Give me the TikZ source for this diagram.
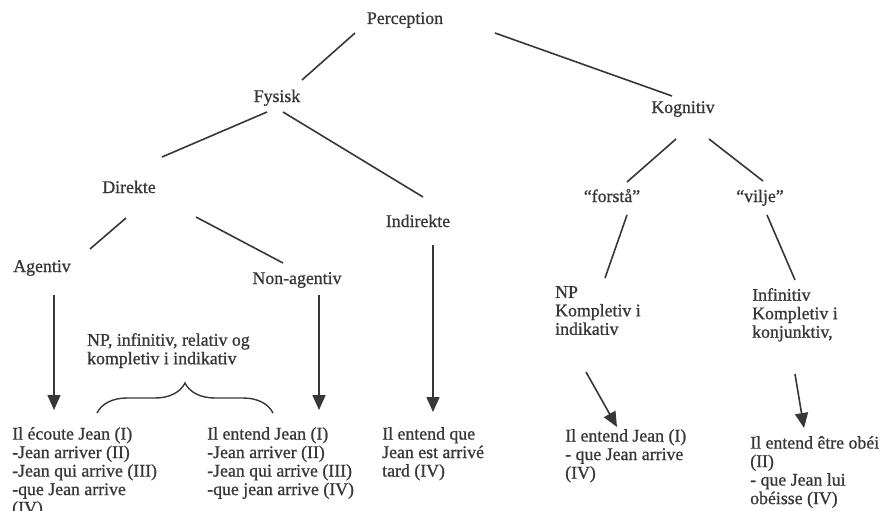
\documentclass[tikz,border=0pt]{standalone}
\usepackage{fontspec}
\setmainfont{Liberation Serif}[FakeBold=0.9]
\usetikzlibrary{arrows.meta,calc,decorations.pathreplacing}
\definecolor{ink}{RGB}{55,55,55}
\begin{document}
\begin{tikzpicture}[x=1pt,y=-1pt,
  lbl/.style={inner sep=0pt,anchor=base,text=ink,font=\fontsize{17.8}{18.5}\selectfont},
  blk/.style={inner sep=0pt,anchor=north west,align=left,text=ink,font=\fontsize{17.8}{18.5}\selectfont},
  link/.style={draw=ink,line width=1.6pt},
  arr/.style={draw=ink,line width=1.6pt,-{Triangle[width=13pt,length=15pt]}},
  bracestyle/.style={draw=ink,line width=1.4pt,decorate,decoration={brace,amplitude=30pt}},
]
\useasboundingbox[fill=white] (0,0) rectangle (891,511);

% labels
\node[lbl] (P) at (405,24) {Perception};
\node[lbl] (F) at (277,102) {Fysisk};
\node[lbl] (K) at (683,113) {Kognitiv};
\node[lbl] (D) at (129,193) {Direkte};
\node[lbl] (I) at (418,227) {Indirekte};
\node[lbl] (FO) at (612,202) {“forstå”};
\node[lbl] (V) at (760,202) {“vilje”};
\node[lbl] (A) at (42,272) {Agentiv};
\node[lbl] (N) at (297,284) {Non-agentiv};

\node[blk] (NP) at (555,286) {NP\\Kompletiv i\\indikativ};
\node[blk] (INF) at (752,288) {Infinitiv\\Kompletiv i\\konjunktiv,};
\node[blk] (NPI) at (87,333) {NP, infinitiv, relativ og\\kompletiv i indikativ};

\node[blk] (B1) at (12,427) {Il écoute Jean (I)\\-Jean arriver (II)\\-Jean qui arrive (III)\\-que Jean arrive\\(IV)};
\node[blk] (B2) at (207,427) {Il entend Jean (I)\\-Jean arriver (II)\\-Jean qui arrive (III)\\-que jean arrive (IV)};
\node[blk] (B3) at (382,427) {Il entend que\\Jean est arrivé\\tard (IV)};
\node[blk] (B4) at (565,429) {Il entend Jean (I)\\- que Jean arrive\\(IV)};
\node[blk] (B5) at (750,436) {Il entend être obéi\\(II)\\- que Jean lui\\obéisse (IV)};

% tree lines
\draw[link] ($(P.base)+(-50,9)$) -- ($(F.base)+(25,-22)$);
\draw[link] ($(P.base)+(90,9)$) -- ($(K.base)+(-11,-17)$);
\draw[link] ($(F.base)+(-10,10)$) -- ($(D.base)+(33,-36)$);
\draw[link] ($(F.base)+(6,10)$) -- ($(I.base)+(5,-30)$);
\draw[link] ($(K.base)+(-7,26)$) -- ($(FO.base)+(15,-20)$);
\draw[link] ($(K.base)+(26,26)$) -- ($(V.base)+(3,-21)$);
\draw[link] ($(D.base)+(-3,25)$) -- ($(A.base)+(48,-23)$);
\draw[link] ($(D.base)+(67,24)$) -- ($(N.base)+(-14,-21)$);
\draw[link] ($(FO.base)+(15,13)$) -- ($(NP.north west)+(50,-8)$);
\draw[link] ($(V.base)+(7,13)$) -- ($(INF.north west)+(43,-8)$);

% arrows
\draw[arr] ($(A.base)+(12,23)$) -- ($(B1.north west)+(42,-17)$);
\draw[arr] ($(N.base)+(22,11)$) -- ($(B2.north west)+(112,-17)$);
\draw[arr] ($(I.base)+(15,18)$) -- ($(B3.north west)+(51,-15)$);
\draw[arr] ($(NP.north west)+(31,86)$) -- ($(B4.north west)+(52,-2)$);
\draw[arr] ($(INF.north west)+(43,86)$) -- ($(B5.north west)+(54,-8)$);

% brace
\coordinate (br1) at (97,413);
\coordinate (br2) at (273,413);
\draw[bracestyle] (br1) -- (br2);
\end{tikzpicture}
\end{document}
